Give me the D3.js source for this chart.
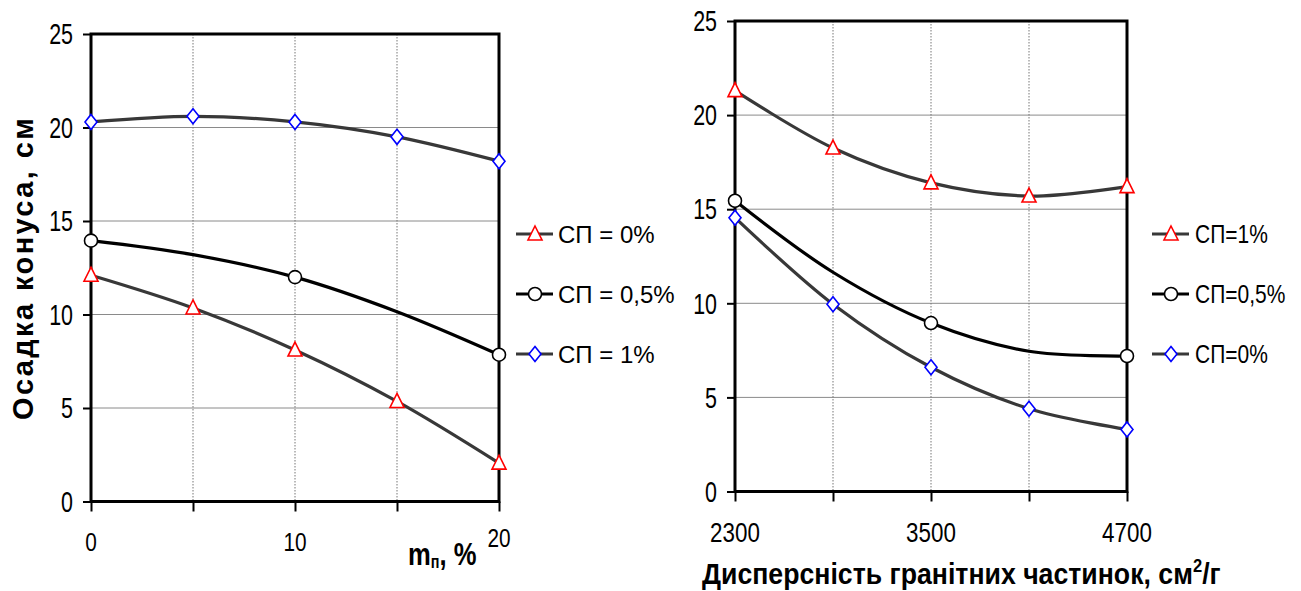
<!DOCTYPE html>
<html>
<head>
<meta charset="utf-8">
<script src="https://cdn.jsdelivr.net/npm/d3@7"></script>
<style>
  body { margin: 0; background: #fff; }
  text { font-family: "Liberation Sans", Arial, sans-serif; fill: #000; }
</style>
</head>
<body>
<svg id="chart" width="1301" height="591"></svg>
<script>
// left panel: slump vs filler content m_п, %
const mpX = [0, 5, 10, 15, 20]
const mpSp0 = [12.1, 10.35, 8.1, 5.35, 2.05]
const mpSp05 = [13.95, 13.2, 12.0, 10.15, 7.85]
const mpSp1 = [20.3, 20.6, 20.3, 19.5, 18.2]
const mpMarked05 = [true, false, true, false, true]
const mpXTicks = [0, 10, 20]
const mpLegend = ['СП = 0%', 'СП = 0,5%', 'СП = 1%']

// right panel: slump vs granite particle fineness
const dsX = [2300, 2900, 3500, 4100, 4700]
const dsSp1 = [21.3, 18.25, 16.4, 15.7, 16.2]
const dsSp05 = [15.45, 11.65, 8.95, 7.45, 7.2]
const dsSp0 = [14.55, 9.95, 6.6, 4.4, 3.3]
const dsMarked05 = [true, false, true, false, true]
const dsXTicks = [2300, 3500, 4700]
const dsLegend = ['СП=1%', 'СП=0,5%', 'СП=0%']

const yTicks = [0, 5, 10, 15, 20, 25]

const svg = d3.select('#chart')

const markerStyle = {
  triangle: { stroke: '#ff0000', line: '#383838' },
  circle: { stroke: '#000000', line: '#000000' },
  diamond: { stroke: '#0000ff', line: '#383838' },
}

// condensed text: Arial-Narrow look by squeezing Liberation Sans
function narrowText(parent, x, y, str, size, sx, anchor) {
  return parent.append('text')
    .attr('transform', `translate(${x},${y}) scale(${sx},1)`)
    .attr('text-anchor', anchor || 'start')
    .attr('dominant-baseline', 'central')
    .attr('font-size', size)
    .text(str)
}

function drawMarker(g, kind, x, y) {
  const st = markerStyle[kind]
  if (kind === 'circle') {
    g.append('circle').attr('cx', x).attr('cy', y).attr('r', 6.5)
      .attr('fill', '#fff').attr('stroke', st.stroke).attr('stroke-width', 1.6)
  } else if (kind === 'triangle') {
    g.append('path')
      .attr('d', `M${x},${y - 8}L${x + 7},${y + 6}L${x - 7},${y + 6}Z`)
      .attr('fill', '#fff').attr('stroke', st.stroke).attr('stroke-width', 1.6)
  } else {
    g.append('path')
      .attr('d', `M${x},${y - 7.5}L${x + 6},${y}L${x},${y + 7.5}L${x - 6},${y}Z`)
      .attr('fill', '#fff').attr('stroke', st.stroke).attr('stroke-width', 1.6)
  }
}

function drawPanel(opt) {
  const { left, right, top, bottom, xDomain, xs, series, labelTicks, labelY, legend } = opt
  const x = d3.scaleLinear(xDomain, [left, right])
  const y = d3.scaleLinear([0, 25], [bottom, top])
  const g = svg.append('g')

  // grid
  g.append('g').selectAll('line').data(yTicks.filter(v => v > 0 && v < 25))
    .join('line')
    .attr('x1', left).attr('x2', right)
    .attr('y1', d => y(d)).attr('y2', d => y(d))
    .attr('stroke', '#8a8a8a').attr('stroke-width', 1)
  g.append('g').selectAll('line').data(xs.slice(1, -1))
    .join('line')
    .attr('x1', d => x(d)).attr('x2', d => x(d))
    .attr('y1', top).attr('y2', bottom)
    .attr('stroke', '#777').attr('stroke-width', 1).attr('stroke-dasharray', '1.5,1.5')

  // y axis (ticks from d3, labels condensed by hand)
  const yAxis = g.append('g').attr('transform', `translate(${left},0)`)
    .call(d3.axisLeft(y).tickValues(yTicks).tickSize(8).tickFormat(''))
  yAxis.select('.domain').remove()
  yAxis.selectAll('.tick line').attr('stroke', '#000').attr('stroke-width', 2)
  yTicks.forEach(v => narrowText(g, left - 18, y(v), v, 29, 0.74, 'end'))

  // x axis ticks
  const xAxis = g.append('g').attr('transform', `translate(0,${bottom})`)
    .call(d3.axisBottom(x).tickValues(xs).tickSize(10).tickFormat(''))
  xAxis.select('.domain').remove()
  xAxis.selectAll('.tick line').attr('stroke', '#000').attr('stroke-width', 2)
  labelTicks.forEach(v => {
    const last = opt.lastShift && v === xDomain[1]
    narrowText(g, x(v) + (last ? opt.lastShift[0] : 0), labelY + (last ? opt.lastShift[1] : 0),
      v, opt.xLabelSize, 0.8, 'middle')
  })

  // frame
  g.append('rect')
    .attr('x', left).attr('y', top).attr('width', right - left).attr('height', bottom - top)
    .attr('fill', 'none').attr('stroke', '#000').attr('stroke-width', 3)

  // series
  const line = d3.line().x((d, i) => x(xs[i])).y(d => y(d)).curve(d3.curveCatmullRom.alpha(0.5))
  series.forEach(s => {
    g.append('path').attr('d', line(s.values))
      .attr('fill', 'none').attr('stroke', markerStyle[s.kind].line).attr('stroke-width', 3.2)
  })
  series.forEach(s => {
    s.values.forEach((v, i) => {
      if (!s.marked || s.marked[i]) drawMarker(g, s.kind, x(xs[i]), y(v))
    })
  })

  // legend
  legend.items.forEach((it, i) => {
    const ly = legend.y + i * 60
    const lx = legend.x
    g.append('line').attr('x1', lx).attr('x2', lx + 37).attr('y1', ly).attr('y2', ly)
      .attr('stroke', markerStyle[it.kind].line).attr('stroke-width', 3.2)
    drawMarker(g, it.kind, lx + 19, ly)
    narrowText(g, lx + legend.gap, ly, it.label, legend.size, legend.sx)
  })
  return g
}

drawPanel({
  left: 91, right: 499, top: 34, bottom: 501.5,
  xDomain: [0, 20], xs: mpX,
  labelTicks: mpXTicks, labelY: 542, lastShift: [0, -4], xLabelSize: 26,
  series: [
    { kind: 'triangle', values: mpSp0 },
    { kind: 'circle', values: mpSp05, marked: mpMarked05 },
    { kind: 'diamond', values: mpSp1 },
  ],
  legend: {
    x: 516, y: 234, size: 24, sx: 1, gap: 42,
    items: [
      { kind: 'triangle', label: mpLegend[0] },
      { kind: 'circle', label: mpLegend[1] },
      { kind: 'diamond', label: mpLegend[2] },
    ]
  }
})

drawPanel({
  left: 735, right: 1127, top: 21, bottom: 491.5,
  xDomain: [2300, 4700], xs: dsX,
  labelTicks: dsXTicks, labelY: 532, xLabelSize: 28,
  series: [
    { kind: 'triangle', values: dsSp1 },
    { kind: 'circle', values: dsSp05, marked: dsMarked05 },
    { kind: 'diamond', values: dsSp0 },
  ],
  legend: {
    x: 1152, y: 234, size: 25, sx: 0.84, gap: 43,
    items: [
      { kind: 'triangle', label: dsLegend[0] },
      { kind: 'circle', label: dsLegend[1] },
      { kind: 'diamond', label: dsLegend[2] },
    ]
  }
})

// axis titles
svg.append('text')
  .attr('transform', 'translate(33,268) rotate(-90)')
  .attr('text-anchor', 'middle').attr('font-weight', 'bold').attr('font-size', 29)
  .attr('letter-spacing', 2.4)
  .text('Осадка конуса, см')

const mt = svg.append('text')
  .attr('transform', 'translate(408,565) scale(0.8,1)')
  .attr('font-weight', 'bold').attr('font-size', 32)
mt.append('tspan').text('m')
mt.append('tspan').attr('font-size', 18).attr('dy', 3).text('п')
mt.append('tspan').attr('dy', -3).text(', %')

const dt = svg.append('text')
  .attr('transform', 'translate(702,584) scale(0.92,1)')
  .attr('font-weight', 'bold').attr('font-size', 29)
dt.append('tspan').text('Дисперсність гранітних частинок, см')
dt.append('tspan').attr('font-size', 18).attr('dy', -12).text('2')
dt.append('tspan').attr('dy', 12).text('/г')
</script>
</body>
</html>
